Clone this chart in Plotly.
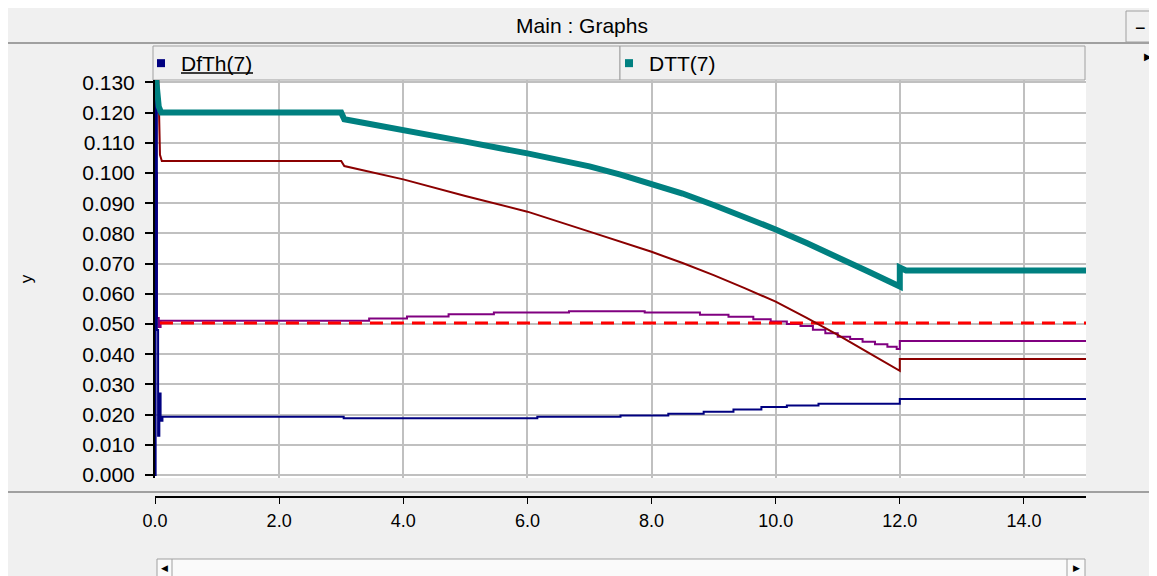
import plotly.graph_objects as go

# ---------------- data ----------------
x_ticks = [0, 2, 4, 6, 8, 10, 12, 14]

dtt_x = [0.0, 0.06, 0.10, 3.00, 3.05, 3.5, 4.0, 5.0, 6.0, 6.5, 7.0, 7.5, 8.0, 8.5, 9.0, 9.5, 10.0, 10.5, 11.0, 11.5, 12.0, 12.0, 12.1, 15.0]
dtt_y = [0.135, 0.122, 0.120, 0.120, 0.1178, 0.1162, 0.1142, 0.1104, 0.1065, 0.1045, 0.1022, 0.0995, 0.0966, 0.0932, 0.0894, 0.0855, 0.0813, 0.0768, 0.0723, 0.0673, 0.0624, 0.0687, 0.0677, 0.0677]

maroon_x = [0.05, 0.08, 0.11, 3.00, 3.05, 3.5, 4.0, 5.0, 6.0, 7.0, 7.5, 8.0, 8.5, 9.0, 9.5, 10.0, 10.5, 11.0, 11.5, 12.0, 12.0, 15.0]
maroon_y = [0.135, 0.106, 0.104, 0.104, 0.1023, 0.1003, 0.0979, 0.0924, 0.0872, 0.0806, 0.0773, 0.0739, 0.0702, 0.0662, 0.0619, 0.0574, 0.0520, 0.0464, 0.0404, 0.0345, 0.0384, 0.0384]

purple_x = [0.01, 0.03, 0.06, 0.09, 3.45, 4.06, 4.73, 5.46, 6.67, 7.89, 8.78, 9.24, 9.64, 9.92, 10.18, 10.4, 10.6, 10.8, 11.0, 11.2, 11.4, 11.6, 11.8, 11.95, 12.0, 15.0]
purple_y = [0.100, 0.052, 0.049, 0.0511, 0.0518, 0.0525, 0.0532, 0.0538, 0.0542, 0.0538, 0.0531, 0.0524, 0.0516, 0.0508, 0.0500, 0.0493, 0.0481, 0.0469, 0.0458, 0.0450, 0.0441, 0.0433, 0.0425, 0.0417, 0.0444, 0.0444]

dfth_x = [0.0, 0.01, 0.03, 0.05, 0.07, 0.09, 0.12, 3.04, 6.16, 7.5, 8.27, 8.84, 9.32, 9.77, 10.18, 10.69, 12.0, 15.0]
dfth_y = [0.0, 0.135, 0.048, 0.013, 0.027, 0.018, 0.0193, 0.0188, 0.0193, 0.0197, 0.0203, 0.0209, 0.0217, 0.0225, 0.0230, 0.0236, 0.0252, 0.0252]

limit_x = [0.08, 15.0]
limit_y = [0.0503, 0.0503]

legend_names = ["DfTh(7)", "DTT(7)"]

NAVY = "#000080"
TEAL = "#008080"
MAROON = "#8B0000"
PURPLE = "#800080"
RED = "#FF0000"
BG = "#f0f0f0"
EDGE = "#a0a0a0"
FONT = "Liberation Sans, Arial, sans-serif"

OFF = 8  # the page body adds an 8px margin around the figure
W, H = 1157, 576

# page pixel -> paper helpers (plot area x:155..1086, paper y: 497 (bottom) .. 80 (top))
def px(xp):
    return (xp - 155) / 931.0

def py(yp):
    return (497 - yp) / 417.0

fig = go.Figure()

fig.add_trace(go.Scatter(x=purple_x, y=purple_y, mode="lines", line=dict(color=PURPLE, width=2, shape="hv"),
                         showlegend=False, hoverinfo="skip"))
fig.add_trace(go.Scatter(x=limit_x, y=limit_y, mode="lines", line=dict(color=RED, width=3, dash="13px,8px"),
                         showlegend=False, hoverinfo="skip"))
fig.add_trace(go.Scatter(x=maroon_x, y=maroon_y, mode="lines", line=dict(color=MAROON, width=2),
                         showlegend=False, hoverinfo="skip"))
fig.add_trace(go.Scatter(x=dfth_x, y=dfth_y, mode="lines", line=dict(color=NAVY, width=2, shape="hv"),
                         legendgroup="dfth", showlegend=False, name=legend_names[0]))
fig.add_trace(go.Scatter(x=dtt_x, y=dtt_y, mode="lines", line=dict(color=TEAL, width=6),
                         legendgroup="dtt", showlegend=False, name=legend_names[1]))

# legend entries (square swatches as in the reference)
fig.add_trace(go.Scatter(x=[None], y=[None], mode="markers", name=legend_names[0], legendgroup="dfth",
                         marker=dict(symbol="square", size=8, color=NAVY)))
fig.add_trace(go.Scatter(x=[None], y=[None], mode="markers", name=legend_names[1], legendgroup="dtt",
                         marker=dict(symbol="square", size=8, color=TEAL)))

shapes = [
    # title bar bottom edge
    dict(type="line", xref="paper", yref="paper", x0=px(8), x1=px(1157), y0=py(43), y1=py(43),
         line=dict(color=EDGE, width=2)),
    # minimise button
    dict(type="rect", xref="paper", yref="paper", x0=px(1126), x1=px(1158), y0=py(42), y1=py(11),
         fillcolor=BG, line=dict(color=EDGE, width=1)),
    # legend tabs
    dict(type="rect", xref="paper", yref="paper", x0=px(153), x1=px(620), y0=py(80), y1=py(46),
         fillcolor=BG, line=dict(color=EDGE, width=1), layer="below"),
    dict(type="rect", xref="paper", yref="paper", x0=px(620), x1=px(1085), y0=py(80), y1=py(46),
         fillcolor=BG, line=dict(color=EDGE, width=1), layer="below"),
    # underline of the selected legend entry
    dict(type="line", xref="paper", yref="paper", x0=px(181), x1=px(253), y0=py(73), y1=py(73),
         line=dict(color="#000000", width=1.5)),
    # separator above the x axis
    dict(type="line", xref="paper", yref="paper", x0=px(8), x1=px(1157), y0=py(492), y1=py(492),
         line=dict(color=EDGE, width=2)),
    # scrollbar
    dict(type="rect", xref="paper", yref="paper", x0=px(157), x1=px(1085), y0=py(580), y1=py(559),
         fillcolor="#fafafa", line=dict(color=EDGE, width=1)),
    dict(type="line", xref="paper", yref="paper", x0=px(172), x1=px(172), y0=py(580), y1=py(559),
         line=dict(color=EDGE, width=1)),
    dict(type="line", xref="paper", yref="paper", x0=px(1067), x1=px(1067), y0=py(580), y1=py(559),
         line=dict(color=EDGE, width=1)),
]

annotations = [
    dict(text="\u2212", xref="paper", yref="paper", x=px(1140), y=py(28), showarrow=False,
         font=dict(family=FONT, size=18, color="#000"), xanchor="center", yanchor="middle"),
    dict(text="\u25B6", xref="paper", yref="paper", x=px(1148), y=py(57), showarrow=False,
         font=dict(family="DejaVu Sans", size=10, color="#000"), xanchor="center", yanchor="middle"),
    dict(text="\u25C0", xref="paper", yref="paper", x=px(164), y=py(568), showarrow=False,
         font=dict(family="DejaVu Sans", size=9, color="#000"), xanchor="center", yanchor="middle"),
    dict(text="\u25B6", xref="paper", yref="paper", x=px(1076), y=py(568), showarrow=False,
         font=dict(family="DejaVu Sans", size=9, color="#000"), xanchor="center", yanchor="middle"),
]

fig.update_layout(
    width=W - OFF, height=H - OFF,
    margin=dict(l=155 - OFF, r=W - 1086, t=80 - OFF, b=H - 497, pad=0),
    paper_bgcolor=BG,
    plot_bgcolor="white",
    title=dict(text="Main : Graphs", x=(582 - OFF) / (W - OFF), xanchor="center",
               y=1 - (26 - OFF) / (H - OFF), yanchor="middle",
               font=dict(family=FONT, size=21, color="#000")),
    font=dict(family=FONT, color="#000"),
    showlegend=True,
    legend=dict(orientation="h", x=px(141), y=py(43), xanchor="left", yanchor="top",
                bgcolor="rgba(0,0,0,0)", borderwidth=0, entrywidth=423,
                font=dict(family=FONT, size=21, color="#000"), itemclick=False, itemdoubleclick=False),
    shapes=shapes,
    annotations=annotations,
    xaxis=dict(range=[0, 15], tickvals=x_ticks, tickformat=".1f", anchor="free", position=0,
               showline=True, linecolor="#000", linewidth=2, ticks="outside", ticklen=6, tickwidth=1,
               tickcolor="#000", showgrid=True, gridcolor="#c0c0c0", gridwidth=2, zeroline=False,
               tickfont=dict(family=FONT, size=18, color="#000"), ticklabelstandoff=1),
    yaxis=dict(range=[-0.001, 0.1308], domain=[19 / 417, 1], tick0=0, dtick=0.01, tickformat=".3f",
               showline=True, linecolor="#000", linewidth=2, ticks="outside", ticklen=8, tickwidth=2,
               tickcolor="#000", showgrid=True, gridcolor="#c0c0c0", gridwidth=2, zeroline=False,
               tickfont=dict(family=FONT, size=21, color="#000"), ticklabelstandoff=6,
               title=dict(text="y", font=dict(family=FONT, size=17, color="#000"), standoff=45)),
)

fig.write_html("out.html")
